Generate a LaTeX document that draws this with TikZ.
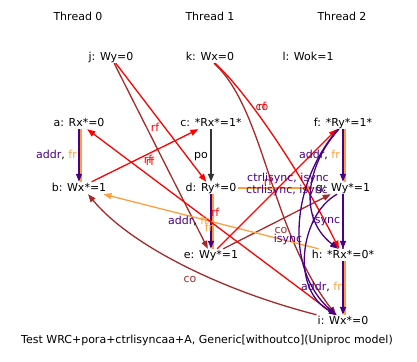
\documentclass[tikz,border=0pt]{standalone}
\usepackage{fontspec}
\setmainfont{DejaVu Sans}
\usetikzlibrary{arrows.meta}
\definecolor{pur}{RGB}{75,0,130}
\definecolor{orn}{RGB}{255,160,64}
\definecolor{brn}{RGB}{165,42,42}
\definecolor{rd}{RGB}{255,0,0}
\newcommand\evf{\fontsize{11}{13}\selectfont}
\tikzset{
  ev/.style={font=\evf, inner sep=1pt, text height=8pt, text depth=2pt},
  lbl/.style={font=\evf, inner sep=0pt, text height=8pt, text depth=2pt},
  tip/.style={-{Triangle[length=8pt,width=6pt]}},
  edge/.style={line width=1.3pt},
}
\begin{document}
\begin{tikzpicture}[x=1pt,y=-1pt]
\useasboundingbox (0,0) rectangle (417,361);
% titles
\node[ev] (t0) at (78,18) {Thread 0};
\node[ev] (t1) at (210,18) {Thread 1};
\node[ev] (t2) at (342,18) {Thread 2};
% events
\node[ev] (j) at (111,57) {j: Wy=0};
\node[ev] (k) at (210,57) {k: Wx=0};
\node[ev] (l) at (308,57) {l: Wok=1};
\node[ev] (a) at (79,123) {a: Rx*=0};
\node[ev] (c) at (211,123) {c: *Rx*=1*};
\node[ev] (f) at (343,123) {f: *Ry*=1*};
\node[ev] (b) at (79,188) {b: Wx*=1};
\node[ev] (d) at (211,188) {d: Ry*=0};
\node[ev] (g) at (343,188) {g: Wy*=1};
\node[ev] (e) at (211,255) {e: Wy*=1};
\node[ev] (h) at (343,255) {h: *Rx*=0*};
\node[ev] (i) at (343,321) {i: Wx*=0};
\node[ev] (cap) at (207,340) {Test WRC+pora+ctrlisyncaa+A, Generic[withoutco](Uniproc model)};
% program order style edges (doubled)
\draw[edge,orn] ([xshift=2pt]a.south) -- ([xshift=2pt]b.north);
\draw[edge,pur,tip] (a.south) -- (b.north);
\draw[edge,black!80,tip] (c.south) -- (d.north);
\draw[edge,orn] ([xshift=2pt]d.south) -- ([xshift=2pt]e.north);
\draw[edge,pur,tip] (d.south) -- (e.north);
\draw[edge,orn] ([xshift=2pt]f.south) -- ([xshift=2pt]g.north);
\draw[edge,pur,tip] (f.south) -- (g.north);
\draw[edge,pur!70,line width=2pt] (g.south) -- (h.north);
\draw[edge,pur,tip] (g.south) -- (h.north);
\draw[edge,orn] ([xshift=2pt]h.south) -- ([xshift=2pt]i.north);
\draw[edge,pur,tip] (h.south) -- (i.north);
% co edges
\draw[edge,brn,tip] (j) -- (e);
\draw[edge,brn,tip] (e) -- (g);
\draw[edge,brn,tip] ([xshift=4pt]k.south) .. controls (265,110) and (270,230) .. ([xshift=-7pt]i.north);
\draw[edge,brn,tip] (i.north west) .. controls (220,290) and (130,245) .. ([xshift=9pt]b.south);
% fr edges
\draw[edge,orn,tip] (h) -- (b);
\draw[edge,orn,tip] (d) -- (g);
% rf edges
\draw[edge,rd,tip] (j) -- (d);
\draw[edge,rd,tip] (b) -- (c);
\draw[edge,rd,tip] (i) -- (a);
\draw[edge,rd,tip] (e) -- (f);
\draw[edge,rd,tip] ([xshift=5pt]k.south) .. controls (245,90) and (300,170) .. ([xshift=-4pt]h.north);
% isync / ctrlisync edges
\draw[edge,pur,tip] ([xshift=-4pt]f.south) .. controls (310,160) and (295,215) .. ([xshift=-5pt]h.north);
\draw[edge,pur,tip] ([xshift=-5pt]f.south) .. controls (290,185) and (285,270) .. ([xshift=-7pt]i.north);
\draw[edge,pur,tip] ([xshift=-6pt]g.south) .. controls (300,215) and (290,290) .. ([xshift=-6pt]i.north);
% labels
\node[lbl,anchor=east] (lab) at (77,155) {\textcolor{pur}{addr}, \textcolor{orn}{fr}};
\node[lbl] (lpo) at (201,155) {po};
\node[lbl,anchor=east] (lde) at (209,221) {\textcolor{pur}{addr}, \textcolor{orn}{fr}};
\node[lbl,anchor=east] (lfg) at (340,155) {\textcolor{pur}{addr}, \textcolor{orn}{fr}};
\node[lbl,text=pur] (lgh) at (326,220) {isync};
\node[lbl,anchor=east] (lhi) at (342,287) {\textcolor{pur}{addr}, \textcolor{orn}{fr}};
\node[lbl,text=rd] (ljd) at (155,128) {rf};
\node[lbl,text=rd] (lbc) at (148,160) {rf};
\node[lbl,text=rd] (lbc2) at (150,162) {rf};
\node[lbl,text=rd] (lia) at (215,213) {rf};
\node[lbl,text=orn] (lhb) at (209,228) {fr};
\node[lbl,text=brn] (lki) at (262,107) {co};
\node[lbl,text=rd] (lkh) at (262,107) {rf};
\node[lbl,text=pur] (lfh) at (288,178) {ctrlisync, isync};
\node[lbl,text=rd] (lef) at (268,182) {rf};
\node[lbl,text=pur] (lfi) at (287,190) {ctrlisync, isync};
\node[lbl,text=brn] (leg) at (281,230) {co};
\node[lbl,text=pur] (lgi) at (288,239) {isync};
\node[lbl,text=brn] (lib) at (190,279) {co};
\end{tikzpicture}
\end{document}
